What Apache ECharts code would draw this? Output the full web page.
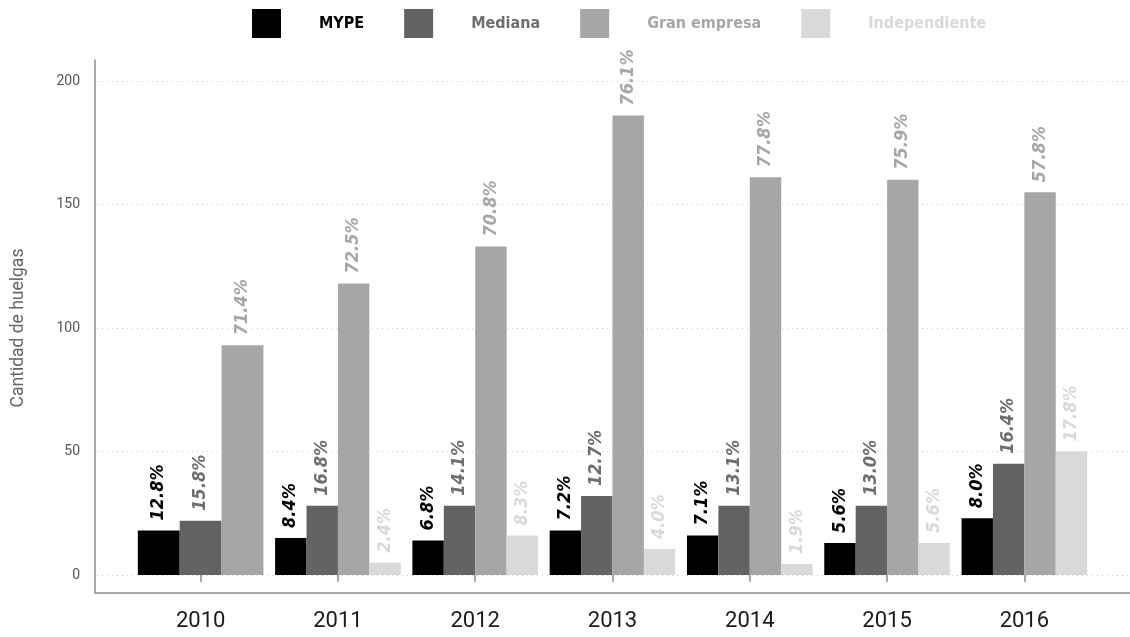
<!DOCTYPE html>
<html>
<head>
<meta charset="utf-8">
<script src="https://cdn.jsdelivr.net/npm/echarts@6/dist/echarts.min.js"></script>
<style>
  html, body { margin: 0; padding: 0; background: #fff; }
  #chart { width: 1130px; height: 637px; }
</style>
</head>
<body>
<div id="chart"></div>
<script>
// Huelgas por tamaño de empresa, 2010-2016
const YEARS = ['2010', '2011', '2012', '2013', '2014', '2015', '2016'];

const NAMES  = ['MYPE', 'Mediana', 'Gran empresa', 'Independiente'];
const COLORS = ['#000000', '#636363', '#a6a6a6', '#d9d9d9'];
const LABEL_COLORS = ['#000000', '#6e6e6e', '#a6a6a6', '#d9d9d9'];

// bar heights (cantidad de huelgas)
const MYPE      = [18, 15, 14, 18, 16, 13, 23];
const MEDIANA   = [22, 28, 28, 32, 28, 28, 45];
const GRAN      = [93, 118, 133, 186, 161, 160, 155];
const INDEP     = [null, 5, 16, 10.5, 4.5, 13, 50];

// percentage labels printed above each bar
const MYPE_PCT    = [12.8, 8.4, 6.8, 7.2, 7.1, 5.6, 8.0];
const MEDIANA_PCT = [15.8, 16.8, 14.1, 12.7, 13.1, 13.0, 16.4];
const GRAN_PCT    = [71.4, 72.5, 70.8, 76.1, 77.8, 75.9, 57.8];
const INDEP_PCT   = [null, 2.4, 8.3, 4.0, 1.9, 5.6, 17.8];

const Y_TICKS = { min: 0, max: 200, interval: 50 };

const VALUES = [MYPE, MEDIANA, GRAN, INDEP];
const PCTS = [MYPE_PCT, MEDIANA_PCT, GRAN_PCT, INDEP_PCT];

const chart = echarts.init(document.getElementById('chart'));

// bars of one year share the group width; a missing series leaves no gap
function makeRender(si) {
  return function (params, api) {
    const i = api.value(0);
    const v = api.value(1);
    const present = VALUES.map((arr, k) => arr[i] != null ? k : -1).filter(k => k >= 0);
    const n = present.length;
    const slot = present.indexOf(si);
    const band = api.size([1, 0])[0];
    const groupW = band * 0.915;
    const barW = groupW / n;
    const base = api.coord([i, 0]);
    const top = api.coord([i, v]);
    const x0 = base[0] - groupW / 2 + slot * barW;
    return {
      type: 'group',
      children: [
        {
          type: 'rect',
          shape: { x: x0, y: top[1], width: barW, height: base[1] - top[1] },
          style: { fill: COLORS[si] }
        },
        {
          type: 'text',
          x: x0 + barW / 2,
          y: top[1] - 10,
          rotation: Math.PI / 2,
          style: {
            text: PCTS[si][i].toFixed(1) + '%',
            fill: LABEL_COLORS[si],
            fontFamily: '"DejaVu Sans Condensed", "DejaVu Sans", sans-serif',
            fontWeight: 'bold',
            fontStyle: 'italic',
            fontSize: 18,
            align: 'left',
            verticalAlign: 'middle'
          }
        }
      ]
    };
  };
}

const series = NAMES.map((name, si) => ({
  name: name,
  type: 'custom',
  xAxisIndex: 2,
  yAxisIndex: 2,
  itemStyle: { color: COLORS[si] },
  renderItem: makeRender(si),
  data: VALUES[si].map((v, i) => v == null ? null : [i, v]).filter(d => d)
}));

const axisGray = '#8f8f8f';

chart.setOption({
  backgroundColor: '#ffffff',
  animation: false,
  legend: {
    left: 252,
    top: 9,
    padding: 0,
    itemWidth: 29,
    itemHeight: 29,
    itemGap: 40,
    icon: 'rect',
    selectedMode: false,
    textStyle: {
      fontFamily: '"DejaVu Sans Condensed", "DejaVu Sans", sans-serif',
      fontWeight: 'bold',
      fontSize: 16,
      padding: [0, 0, 0, 33]
    },
    data: NAMES.map((name, si) => ({ name: name, textStyle: { color: LABEL_COLORS[si] } }))
  },
  grid: [
    { left: 95, right: 0, top: 60, bottom: 44 },      // frame lines
    { left: 97, right: 0, top: 81, bottom: 62 },      // y scale and gridlines
    { left: 132, right: 37, top: 81, bottom: 62 }     // bars
  ],
  xAxis: [
    {
      gridIndex: 0, type: 'value', min: 0, max: 1,
      axisLine: { show: true, onZero: false, lineStyle: { color: axisGray, width: 1.5 } },
      axisTick: { show: false }, axisLabel: { show: false }, splitLine: { show: false }
    },
    { gridIndex: 1, type: 'value', min: 0, max: 1, show: false },
    {
      gridIndex: 2, type: 'category', data: YEARS, offset: 18,
      axisLine: { show: false },
      axisTick: { show: true, length: 7, lineStyle: { color: axisGray, width: 1.5 }, alignWithLabel: true },
      axisLabel: { margin: 17, fontFamily: 'Roboto, sans-serif', fontSize: 22, color: '#1a1a1a' },
      splitLine: { show: false }
    }
  ],
  yAxis: [
    {
      gridIndex: 0, type: 'value', min: 0, max: 1,
      axisLine: { show: true, onZero: false, lineStyle: { color: axisGray, width: 1.5 } },
      axisTick: { show: false }, axisLabel: { show: false }, splitLine: { show: false }
    },
    {
      gridIndex: 1, type: 'value',
      min: Y_TICKS.min, max: Y_TICKS.max, interval: Y_TICKS.interval,
      name: 'Cantidad de huelgas',
      nameLocation: 'middle',
      nameGap: 69,
      nameTextStyle: { fontFamily: 'Roboto, sans-serif', fontSize: 17.5, color: '#666666' },
      axisLine: { show: false },
      axisTick: { show: false },
      axisLabel: { margin: 17, fontFamily: 'Roboto, sans-serif', fontSize: 14, color: '#555555' },
      splitLine: { show: true, lineStyle: { type: [1, 4], color: '#cfcfcf', width: 1 } }
    },
    { gridIndex: 2, type: 'value', min: Y_TICKS.min, max: Y_TICKS.max, show: false }
  ],
  series: series
});
</script>
</body>
</html>
